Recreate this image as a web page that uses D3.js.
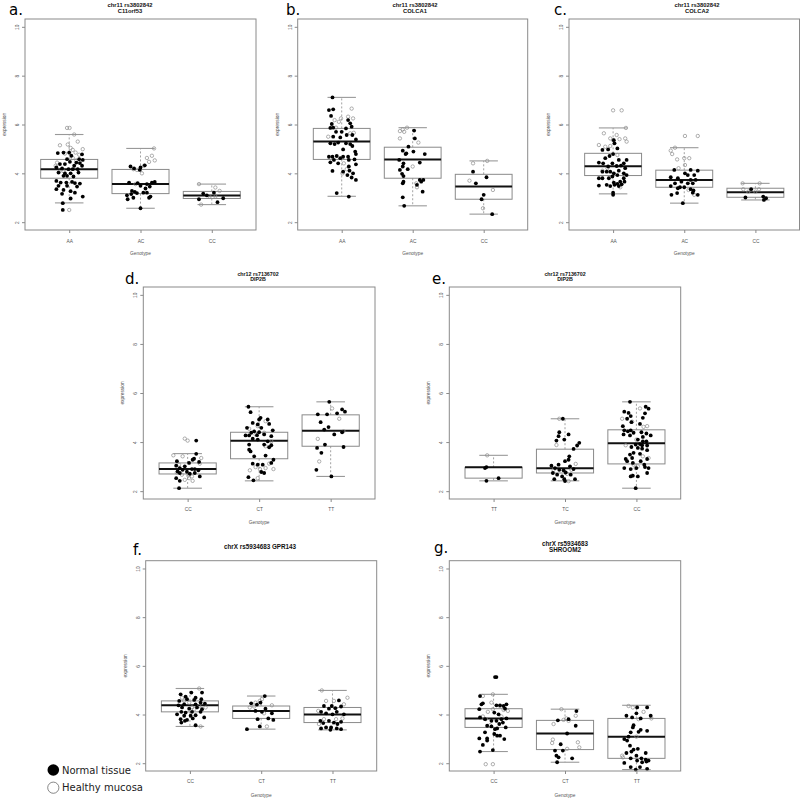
<!DOCTYPE html>
<html><head><meta charset="utf-8">
<script src="https://cdn.jsdelivr.net/npm/d3@7"></script>
<style>body{margin:0;background:#fff}svg{display:block}</style>
</head><body>
<svg id="chart" width="800" height="798"></svg>
<script>
// ---------- DATA ----------
const yTicks = [2, 4, 6, 8, 10];
const legendLabels = ["Normal tissue", "Healthy mucosa"];

const aTitle = ["chr11 rs3802842", "C11orf53"];
const bTitle = ["chr11 rs3802842", "COLCA1"];
const cTitle = ["chr11 rs3802842", "COLCA2"];
const dTitle = ["chr12 rs7136702", "DIP2B"];
const eTitle = ["chr12 rs7136702", "DIP2B"];
const fTitle = ["chrX rs5934683 GPR143"];
const gTitle = ["chrX rs5934683", "SHROOM2"];

const aCats = ["AA", "AC", "CC"];
const bCats = ["AA", "AC", "CC"];
const cCats = ["AA", "AC", "CC"];
const dCats = ["CC", "CT", "TT"];
const eCats = ["TT", "TC", "CC"];
const fCats = ["CC", "CT", "TT"];
const gCats = ["CC", "CT", "TT"];

// box stats per group: [lower whisker, Q1, median, Q3, upper whisker]
const aStats = [[2.79,3.80,4.17,4.57,5.59],[2.57,3.17,3.56,4.16,5.02],[2.72,2.97,3.09,3.26,3.56]];
const bStats = [[3.06,4.57,5.30,5.84,7.11],[2.67,3.80,4.57,5.07,5.87],[2.33,2.94,3.46,3.96,4.51]];
const cStats = [[3.16,3.91,4.29,4.82,5.86],[2.78,3.43,3.73,4.13,5.05],[2.91,3.02,3.23,3.39,3.59]];
const dStats = [[2.12,2.70,2.90,3.15,3.53],[2.42,3.32,4.05,4.40,5.44],[2.60,3.83,4.46,5.11,5.64]];
const eStats = [[2.42,2.53,2.97,2.97,3.46],[2.42,2.74,2.93,3.71,4.95],[2.12,3.11,3.95,4.50,5.64]];
const fStats = [[3.51,4.11,4.38,4.56,5.07],[3.40,3.84,4.14,4.35,4.76],[3.37,3.67,4.00,4.29,4.99]];
const gStats = [[2.48,3.47,3.84,4.24,4.83],[2.04,2.56,3.22,3.76,4.22],[1.74,2.20,3.09,3.84,4.38]];

// points per group: [jitter offset (category units), expression]
const aNormal = [
 [[-0.16,4.83],[-0.08,4.85],[0,4.85],[0.03,4.72],[0.18,4.78],[0.14,4.58],[0.19,4.55],[-0.03,4.58],[0.01,4.47],[0.10,4.44],[0.15,4.42],[-0.13,4.38],[-0.06,4.38],[0.07,4.31],[0.18,4.31],[-0.18,4.24],[-0.10,4.20],[-0.01,4.17],[0.05,4.17],[0.12,4.17],[-0.15,4.03],[-0.06,4.0],[0.02,4.0],[0.13,4.03],[-0.08,3.9],[-0.03,3.9],[0.06,3.87],[-0.18,3.69],[-0.12,3.62],[-0.04,3.62],[0.04,3.65],[0.08,3.6],[0.15,3.58],[-0.15,3.49],[-0.03,3.49],[0.11,3.46],[-0.18,3.35],[-0.08,3.32],[0.02,3.27],[0.08,3.21],[-0.10,3.16],[0.19,3.05],[0.02,2.97],[-0.09,2.78],[-0.09,2.5]],
 [[-0.14,4.28],[-0.09,4.2],[0,4.24],[0.06,4.33],[-0.01,4.14],[-0.16,3.62],[-0.04,3.6],[0.09,3.56],[0.16,3.62],[0.2,3.65],[0.13,3.46],[0.07,3.38],[-0.12,3.28],[-0.08,3.24],[-0.19,3.1],[-0.13,3.15],[-0.05,3.19],[0.04,3.21],[0.09,3.21],[0.14,3.05],[-0.18,2.94],[-0.1,3.0],[0.12,3.0],[0,3.49],[0,2.57]],
 [[-0.12,3.17],[-0.18,2.94],[-0.07,3.1],[0.03,3.21],[0.16,2.98],[0.08,2.82]]
];
const aHealthy = [
 [[-0.03,5.86],[0.005,5.86],[0.07,5.59],[-0.13,5.15],[-0.02,5.18],[0.12,5.3],[0.05,4.96],[0.02,5.04],[0.19,4.99],[0.14,4.76],[0.09,4.85],[-0.06,4.81],[-0.17,4.44],[-0.19,4.31],[-0.08,4.09],[-0.14,4.06],[0.10,4.53],[0.05,4.63],[0,2.5]],
 [[0.19,5.02],[0.09,4.63],[0.16,4.72],[0.2,4.53],[0.12,4.47],[-0.1,4.17],[-0.05,4.14],[0.02,4.0],[0.05,4.31],[-0.07,3.56]],
 [[-0.18,3.56],[0.05,3.42],[0.11,3.28],[-0.15,2.72],[-0.03,3.05],[0.05,3.05]]
];
const bNormal = [
 [[-0.13,7.11],[-0.18,6.59],[-0.12,6.62],[-0.15,6.35],[-0.14,6.02],[-0.16,5.86],[-0.12,5.87],[-0.08,5.7],[0,5.7],[0.06,5.84],[0.09,6.18],[0.12,6.05],[0.14,5.91],[0.07,5.57],[0.15,5.57],[0.2,5.39],[-0.12,5.5],[-0.02,5.47],[-0.16,5.23],[-0.1,5.2],[-0.05,5.26],[0.06,5.23],[0.12,5.2],[0.02,4.98],[0.15,5.12],[0.19,4.89],[0.2,4.79],[-0.07,4.71],[-0.13,4.68],[-0.18,4.68],[-0.02,4.62],[0.02,4.68],[0.09,4.68],[-0.11,4.55],[-0.16,4.45],[-0.05,4.41],[0.1,4.55],[0.18,4.57],[0.1,4.28],[0.2,4.37],[-0.13,4.1],[0.02,4.07],[0.11,4.11],[0.16,4.0],[0.08,3.93],[0.14,3.83],[0.2,3.73],[-0.07,3.19],[0.1,3.05]],
 [[0.02,5.75],[0.03,5.43],[-0.06,5.09],[-0.14,4.93],[0.01,4.89],[-0.09,4.82],[-0.1,4.79],[0.17,4.79],[-0.19,4.55],[-0.13,4.41],[-0.14,4.28],[0.1,4.44],[-0.07,4.17],[-0.18,4.14],[-0.15,3.98],[-0.13,3.89],[0.1,3.73],[0.12,3.66],[0.15,3.73],[-0.13,3.66],[-0.14,3.59],[0.06,3.53],[0.14,3.25],[-0.14,3.02],[-0.12,2.67]],
 [[-0.15,4.07],[0.04,3.84],[-0.11,3.59],[0,3.12],[-0.03,2.94],[0.12,2.33]]
];
const bHealthy = [
 [[0.14,6.65],[0.09,6.32],[0.16,6.25],[-0.1,6.18],[-0.01,6.25],[-0.04,6.11],[-0.08,5.87],[-0.19,5.5],[0.12,5.64],[0.17,5.66],[0.01,4.0],[0.07,4.17],[0.03,4.41]],
 [[-0.08,5.87],[-0.14,5.8],[-0.18,5.73],[-0.12,5.7],[-0.18,5.43],[0.08,5.26],[0,4.28],[0.05,3.59],[0.06,3.43]],
 [[0.05,4.51],[-0.15,4.41],[-0.2,3.7],[0.13,3.32],[-0.01,2.57]]
];
const cNormal = [
 [[0.01,5.36],[0.02,5.23],[0.06,5.02],[-0.07,4.98],[-0.15,4.96],[0,4.79],[-0.05,4.71],[-0.11,4.62],[0.08,4.55],[0.19,4.55],[-0.2,4.44],[-0.14,4.41],[-0.01,4.41],[0.15,4.41],[0.05,4.3],[0.11,4.32],[-0.07,4.28],[0.17,4.21],[-0.15,4.07],[-0.09,4.07],[-0.04,4.07],[0.08,4.11],[0.15,4.0],[0.01,4.0],[0.06,3.93],[0.19,3.93],[-0.2,3.8],[-0.15,3.8],[-0.01,3.87],[-0.06,3.8],[0.15,3.8],[0.1,3.66],[0.01,3.62],[0.16,3.66],[0.06,3.57],[-0.09,3.53],[-0.2,3.5],[-0.04,3.48],[0.02,3.53],[0.08,3.48],[0.12,3.55],[0,3.21],[0,3.12]],
 [[-0.14,4.14],[0.09,4.14],[0.19,4.11],[0.01,4.0],[0.05,3.93],[0.14,3.93],[-0.19,3.84],[-0.09,3.8],[-0.04,3.66],[0.09,3.73],[0.16,3.73],[0.05,3.59],[0.12,3.59],[-0.13,3.59],[-0.19,3.48],[-0.06,3.43],[-0.09,3.39],[0,3.43],[0.09,3.35],[0.12,3.21],[0.13,3.3],[-0.1,3.19],[-0.18,3.12],[0.19,3.12],[-0.02,2.78]],
 [[-0.06,3.35],[-0.14,3.01],[0.11,3.05],[0.12,2.91],[0.15,2.98]]
];
const cHealthy = [
 [[0,6.58],[0.12,6.58],[0.18,5.86],[-0.13,5.64],[0.05,5.57],[-0.04,5.43],[0,5.36],[0.09,5.4],[0.17,5.43],[0.19,5.3],[-0.2,5.16],[-0.11,5.09],[-0.04,5.12],[0.06,4.75],[-0.08,4.21],[0.1,3.43],[-0.15,4.11]],
 [[0.01,5.53],[0.19,5.53],[-0.13,5.05],[-0.19,4.93],[-0.17,4.79],[-0.1,4.57],[0,4.62],[0.07,4.62],[0.01,4.34],[-0.08,4.21],[0.06,3.32],[0.14,3.12]],
 [[-0.18,3.59],[0.06,3.59],[-0.17,3.35],[-0.1,3.25],[0.05,3.35],[0,3.25]]
];
const dNormal = [
 [[0.12,4.06],[0.12,3.52],[0.09,3.32],[0.07,3.28],[-0.15,3.22],[0.16,3.19],[0.02,3.15],[-0.16,3.04],[-0.04,3.01],[-0.11,2.94],[0.1,2.9],[-0.07,2.87],[0.06,2.9],[0.15,2.85],[-0.14,2.8],[-0.01,2.79],[0.1,2.74],[0.03,2.71],[-0.11,2.74],[0.17,2.6],[-0.16,2.53],[-0.11,2.42],[-0.12,2.12]],
 [[-0.15,5.44],[-0.12,5.22],[0.02,4.99],[0,4.92],[0.12,4.92],[-0.09,4.78],[0.14,4.74],[-0.02,4.72],[-0.17,4.58],[0.03,4.58],[0.19,4.48],[-0.07,4.44],[-0.11,4.38],[0,4.4],[-0.14,4.27],[-0.03,4.28],[0.07,4.31],[-0.19,4.27],[0.17,4.24],[-0.09,4.14],[-0.02,4.1],[0.12,4.03],[-0.14,3.9],[0.07,3.9],[0.17,3.87],[0.14,3.79],[-0.14,3.69],[-0.12,3.62],[0.09,3.45],[-0.07,3.42],[0.2,3.28],[-0.09,3.12],[-0.02,3.08],[0.17,3.15],[0.05,3.08],[0.07,2.74],[0.03,2.78],[-0.15,2.57],[-0.08,2.44]],
 [[-0.02,5.64],[0.16,5.33],[0.2,5.24],[0.09,5.17],[-0.18,5.13],[-0.05,5.13],[-0.14,4.81],[-0.03,4.61],[-0.09,4.51],[0.16,4.4],[0.05,4.31],[-0.08,3.9],[-0.19,3.76],[0.18,3.8],[-0.13,3.56],[-0.2,2.87],[0.01,2.6]]
];
const dHealthy = [
 [[-0.04,4.14],[0,4.06],[-0.2,3.46],[-0.07,3.42],[-0.15,2.76],[-0.08,2.67],[0.01,2.63],[0.06,2.6],[0.07,2.42],[0.19,3.35],[-0.12,3.08],[0.17,3.12],[-0.04,2.46],[0.02,2.53]],
 [[-0.02,4.65],[0.09,4.85],[0.07,4.38],[-0.14,4.54],[-0.05,4.31],[0.09,3.83],[0.17,4.03],[-0.13,2.85],[-0.05,2.98],[0.01,2.9],[0.09,2.94],[0.2,2.9],[-0.02,2.53],[0.14,3.12]],
 [[0.02,5.37],[0.12,4.95],[0.18,4.44],[-0.18,4.13],[-0.16,3.21]]
];
const eNormal = [
 [[-0.12,2.94],[-0.1,2.98],[-0.1,2.42],[0.07,2.53]],
 [[-0.03,4.95],[-0.08,4.4],[-0.09,4.24],[-0.12,4.06],[-0.01,4.1],[0.05,4.31],[0.2,3.97],[0.17,3.86],[0.12,3.72],[0.06,3.42],[0.05,3.28],[0,3.22],[-0.19,3.04],[-0.09,3.08],[0.07,3.01],[0.12,2.9],[-0.14,2.94],[-0.08,2.87],[-0.02,2.85],[0.01,2.76],[-0.17,2.74],[-0.11,2.67],[0.08,2.67],[-0.04,2.6],[-0.15,2.49],[-0.01,2.49],[0.14,2.49],[0,2.41]],
 [[-0.09,5.64],[0.13,5.44],[0.17,5.36],[-0.17,5.24],[-0.11,5.19],[-0.08,5.06],[0.12,5.17],[0.09,4.99],[-0.13,4.95],[-0.07,4.81],[0.05,4.74],[-0.19,4.65],[-0.17,4.48],[-0.12,4.44],[-0.08,4.48],[-0.04,4.38],[0.07,4.4],[0.14,4.35],[0.2,4.27],[0.09,4.21],[-0.18,4.31],[-0.09,4.27],[0.02,4.1],[0.09,4.03],[0.14,4.03],[0.05,3.92],[-0.01,3.9],[0.08,3.87],[0.15,3.86],[-0.07,3.8],[0.02,3.76],[0.08,3.73],[0.15,3.67],[-0.04,3.56],[0.05,3.52],[-0.09,3.49],[-0.15,3.31],[-0.06,3.35],[0.15,3.31],[-0.13,3.22],[-0.05,3.15],[0.06,3.22],[0.11,3.08],[-0.17,2.94],[-0.08,2.9],[0,2.94],[0.12,2.98],[0.17,2.94],[0.15,2.74],[-0.05,2.63],[0.02,2.6],[-0.08,2.6],[-0.01,2.12]]
];
const eHealthy = [
 [[-0.09,3.46]],
 [[-0.08,4.95],[-0.12,3.88],[0.15,3.11],[-0.16,2.87],[0.03,2.7],[0.05,2.41],[0.09,2.87]],
 [[0.05,5.37],[-0.2,4.95],[-0.06,4.83],[0.15,4.65],[0.1,4.62],[0,4.1],[-0.15,3.87],[0.17,3.35],[-0.04,3.08],[0.02,3.01],[-0.01,2.94],[-0.06,2.63],[0.09,3.42]]
];
const fNormal = [
 [[-0.13,4.83],[0.02,4.9],[0.17,4.9],[-0.06,4.73],[0.08,4.69],[-0.15,4.56],[-0.04,4.63],[0.06,4.6],[0.16,4.63],[-0.16,4.38],[-0.08,4.42],[0.08,4.42],[0.15,4.49],[0.21,4.45],[-0.11,4.29],[-0.01,4.24],[0.1,4.29],[0.17,4.22],[-0.12,4.11],[-0.18,4.01],[-0.06,4.08],[0.03,4.11],[0.15,4.11],[-0.08,3.95],[0.01,3.95],[0.08,3.97],[-0.13,3.81],[-0.04,3.78],[0.04,3.84],[-0.12,3.67],[-0.07,3.74],[0.2,3.88],[0.08,3.56]],
 [[0.05,4.76],[-0.14,4.46],[-0.01,4.49],[-0.06,4.41],[0.06,4.24],[-0.08,4.15],[0.01,4.11],[0.15,4.05],[-0.05,3.81],[0.1,3.84],[0.17,3.78],[-0.02,3.51],[-0.2,3.4]],
 [[0.09,4.58],[-0.01,4.35],[-0.12,4.35],[0.12,4.33],[0.04,4.26],[-0.05,4.24],[-0.16,4.11],[0.06,4.11],[-0.09,4.05],[0.16,4.01],[0,4.01],[-0.17,3.74],[-0.05,3.74],[0.02,3.67],[0.12,3.7],[-0.13,3.65],[0.07,3.61],[-0.09,3.47],[-0.02,3.47],[0.06,3.43],[-0.16,3.43],[0.12,3.4],[-0.03,3.37]]
];
const fHealthy = [
 [[0.13,5.07],[-0.11,4.69],[-0.08,4.56],[-0.01,4.49],[0.03,4.29],[0.13,4.35],[0.22,4.29],[0.15,3.51],[0.06,4.22]],
 [[0.01,4.63],[-0.02,4.56],[-0.08,4.49],[-0.16,4.29],[-0.1,4.33],[0.15,4.38],[0.04,4.05],[0.08,3.51]],
 [[-0.15,4.99],[-0.09,4.56],[0.02,4.56],[0.21,4.69],[0.16,4.42],[-0.2,4.15],[-0.12,3.81],[0.05,3.81],[0.14,3.84],[-0.19,3.61]]
];
const gNormal = [
 [[0.02,5.54],[0.04,5.54],[-0.19,4.76],[-0.17,4.42],[-0.15,4.46],[-0.2,4.22],[0.04,4.38],[0.09,4.38],[0.14,4.35],[0.18,4.42],[0.16,4.24],[0.01,4.08],[0.07,4.01],[-0.19,3.88],[-0.12,3.81],[-0.03,3.74],[0.04,3.74],[0.11,3.81],[0.18,3.84],[-0.09,3.54],[-0.03,3.51],[0.08,3.61],[0.13,3.67],[0.17,3.47],[-0.12,3.27],[0.02,3.4],[0.05,3.43],[0.01,3.2],[0.09,3.13],[-0.2,3.02],[-0.09,3.02],[0.15,2.99],[-0.15,2.75],[-0.09,2.93],[0.05,3.13],[-0.19,2.48],[-0.01,2.54]],
 [[0.16,4.14],[-0.1,3.76],[0.05,3.81],[0.15,3.54],[0.03,3.22],[-0.06,2.78],[-0.14,2.52],[-0.03,2.52],[-0.12,2.31],[-0.09,2.24],[0.1,2.2],[-0.11,2.04]],
 [[0.01,4.29],[0.15,4.29],[0,4.05],[-0.14,3.95],[-0.06,3.88],[0.2,3.95],[0.06,3.84],[-0.04,3.56],[-0.05,3.47],[0.06,3.37],[0.15,3.33],[0.03,3.29],[-0.08,3.27],[-0.11,3.09],[-0.13,2.93],[-0.17,2.99],[-0.09,2.72],[-0.04,2.56],[0.02,2.59],[-0.07,2.48],[-0.14,2.42],[0.13,2.42],[0,2.31],[-0.08,2.2],[0.07,2.2],[0.13,2.15],[0.17,2.11],[0.14,2.07],[0.01,2.11],[0.08,2.04],[-0.17,2.01],[-0.08,1.84],[0.05,1.84],[0.15,1.77],[-0.01,1.74]]
];
const gHealthy = [
 [[-0.01,4.83],[-0.15,4.76],[-0.03,4.49],[-0.08,4.11],[-0.01,4.22],[-0.15,3.92],[-0.11,3.81],[0.09,4.35],[0.14,4.19],[0.2,4.15],[-0.05,3.56],[0.11,3.92],[-0.11,1.96],[-0.01,1.96]],
 [[-0.05,4.22],[0.15,3.95],[0.02,3.84],[0.05,3.74],[-0.02,3.78],[-0.16,3.61],[-0.17,2.97],[-0.18,2.83],[0.18,2.86],[0.2,2.65],[0.03,2.59]],
 [[-0.11,4.35],[-0.05,4.29],[0.1,4.11],[0.03,3.81],[0.21,3.84],[0,3.09],[-0.2,2.31],[-0.19,2.24]]
];

// ---------- LAYOUT (positions only) ----------
const panels = [
 {letter:"a.", title:aTitle, cats:aCats, stats:aStats, normal:aNormal, healthy:aHealthy, L:25,  R:256,   T:19,    B:230, tx:130, lx:9,   ly:15,  titleOff:6.5, ts:5.8, tickOff:11.2, xlabOff:25},
 {letter:"b.", title:bTitle, cats:bCats, stats:bStats, normal:bNormal, healthy:bHealthy, L:297.7,R:527.7, T:19,    B:230, tx:415, lx:286, ly:15,  titleOff:6.5, ts:5.8, tickOff:11.2, xlabOff:25},
 {letter:"c.", title:cTitle, cats:cCats, stats:cStats, normal:cNormal, healthy:cHealthy, L:569, R:799.5,  T:19,    B:230, tx:697, lx:554, ly:15,  titleOff:6.5, ts:5.8, tickOff:11.2, xlabOff:25},
 {letter:"d.", title:dTitle, cats:dCats, stats:dStats, normal:dNormal, healthy:dHealthy, L:143.3,R:375,   T:287,   B:499, tx:258, lx:125, ly:284, titleOff:6,   ts:5.3, tickOff:10.2, xlabOff:25},
 {letter:"e.", title:eTitle, cats:eCats, stats:eStats, normal:eNormal, healthy:eHealthy, L:449.3,R:680.7, T:287,   B:499, tx:565, lx:432, ly:284, titleOff:6,   ts:5.3, tickOff:10.2, xlabOff:25},
 {letter:"f.", title:fTitle, cats:fCats, stats:fStats, normal:fNormal, healthy:fHealthy, L:145.7,R:376.7, T:560.7, B:771, tx:260, lx:133, ly:555, titleOff:12,  ts:6.3, tickOff:10.2, xlabOff:25.5},
 {letter:"g.", title:gTitle, cats:gCats, stats:gStats, normal:gNormal, healthy:gHealthy, L:449.3,R:680.7, T:560.7, B:771, tx:565, lx:434, ly:553, titleOff:8.7, ts:6.3, tickOff:10.2, xlabOff:25.5}
];

const svg = d3.select("#chart");
const FONT = "'Liberation Sans', Arial, sans-serif";
const gray = "#8a8a8a";

panels.forEach(p => {
  const x = d3.scaleLinear().domain([0.38, 3.62]).range([p.L, p.R]);
  const y = d3.scaleLinear().domain([1.68, 10.32]).range([p.B, p.T]);
  const g = svg.append("g");
  const bw = 0.4, cw = 0.2;

  // boxes
  p.stats.forEach((s, i) => {
    const c = i + 1;
    const [lo, q1, med, q3, hi] = s;
    g.append("line").attr("x1", x(c)).attr("x2", x(c)).attr("y1", y(q3)).attr("y2", y(hi))
      .attr("stroke", gray).attr("stroke-width", 0.8).attr("stroke-dasharray", "2,2");
    g.append("line").attr("x1", x(c)).attr("x2", x(c)).attr("y1", y(q1)).attr("y2", y(lo))
      .attr("stroke", gray).attr("stroke-width", 0.8).attr("stroke-dasharray", "2,2");
    [lo, hi].forEach(v => g.append("line").attr("x1", x(c - cw)).attr("x2", x(c + cw))
      .attr("y1", y(v)).attr("y2", y(v)).attr("stroke", "#999").attr("stroke-width", 1.1));
    g.append("rect").attr("x", x(c - bw)).attr("width", x(c + bw) - x(c - bw))
      .attr("y", y(q3)).attr("height", y(q1) - y(q3))
      .attr("fill", "none").attr("stroke", gray).attr("stroke-width", 1);
    g.append("line").attr("x1", x(c - bw)).attr("x2", x(c + bw)).attr("y1", y(med)).attr("y2", y(med))
      .attr("stroke", "#111").attr("stroke-width", 2);
  });

  // points
  p.healthy.forEach((grp, i) => {
    g.selectAll(null).data(grp).enter().append("circle")
      .attr("cx", d => x(i + 1 + d[0])).attr("cy", d => y(d[1])).attr("r", 1.7)
      .attr("fill", "none").attr("stroke", "#8c8c8c").attr("stroke-width", 0.7);
  });
  p.normal.forEach((grp, i) => {
    g.selectAll(null).data(grp).enter().append("circle")
      .attr("cx", d => x(i + 1 + d[0])).attr("cy", d => y(d[1])).attr("r", 1.9)
      .attr("fill", "#000");
  });

  // frame
  g.append("rect").attr("x", p.L).attr("y", p.T).attr("width", p.R - p.L).attr("height", p.B - p.T)
    .attr("fill", "none").attr("stroke", gray).attr("stroke-width", 1);

  // y axis
  const ya = g.append("g").attr("transform", `translate(${p.L},0)`)
    .call(d3.axisLeft(y).tickValues(yTicks).tickSize(3).tickFormat(d3.format("d")));
  ya.select(".domain").remove();
  ya.selectAll(".tick line").attr("stroke", gray);
  ya.selectAll(".tick text").attr("font-family", FONT).attr("font-size", 4.8).attr("fill", "#555")
    .attr("x", 0).attr("dy", 0).attr("text-anchor", "middle")
    .attr("transform", "translate(-6,0) rotate(-90)");

  // x axis
  const xa = g.append("g").attr("transform", `translate(0,${p.B})`)
    .call(d3.axisBottom(x).tickValues([1, 2, 3]).tickSize(3).tickFormat(d => p.cats[d - 1]));
  xa.select(".domain").remove();
  xa.selectAll(".tick line").attr("stroke", gray);
  xa.selectAll(".tick text").attr("font-family", FONT).attr("font-size", 4.8).attr("fill", "#555")
    .attr("y", p.tickOff - 2).attr("dy", "0.71em");

  // labels
  g.append("text").attr("transform", `translate(${p.L - 19},${(p.T + p.B) / 2}) rotate(-90)`)
    .attr("text-anchor", "middle").attr("font-family", FONT).attr("font-size", 4.8).attr("fill", "#555")
    .text("expression");
  g.append("text").attr("x", (p.L + p.R) / 2).attr("y", p.B + p.xlabOff)
    .attr("text-anchor", "middle").attr("font-family", FONT).attr("font-size", 4.8).attr("fill", "#555")
    .text("Genotype");

  // title
  const n = p.title.length;
  p.title.forEach((t, k) => {
    g.append("text").attr("x", p.tx).attr("y", p.T - p.titleOff - (n - 1 - k) * p.ts)
      .attr("text-anchor", "middle").attr("font-family", FONT).attr("font-size", p.ts)
      .attr("font-weight", "bold").attr("fill", "#111").text(t);
  });

  // panel letter
  g.append("text").attr("x", p.lx).attr("y", p.ly).attr("font-family", "'DejaVu Sans', sans-serif")
    .attr("font-size", 15).attr("fill", "#000").text(p.letter);
});

// legend
const leg = svg.append("g");
leg.append("circle").attr("cx", 53.3).attr("cy", 770).attr("r", 5.8).attr("fill", "#000");
leg.append("circle").attr("cx", 53.3).attr("cy", 787.7).attr("r", 5.6).attr("fill", "#fff")
  .attr("stroke", "#555").attr("stroke-width", 0.7);
leg.selectAll(null).data(legendLabels).enter().append("text")
  .attr("x", 62).attr("y", (d, i) => 773.5 + i * 17.7)
  .attr("font-family", "'DejaVu Sans', sans-serif").attr("font-size", 10).attr("fill", "#222")
  .text(d => d);
</script>
</body></html>
